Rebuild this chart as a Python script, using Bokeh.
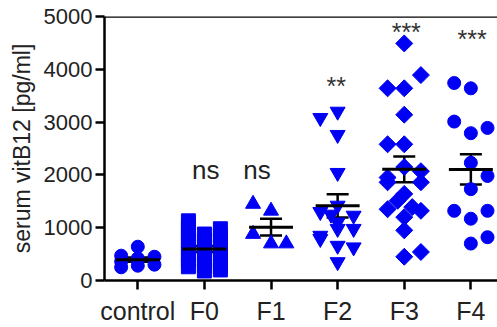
from bokeh.plotting import figure
from bokeh.models import Range1d, FixedTicker, Span, ColumnDataSource, Whisker
from bokeh.core.properties import value
from bokeh.embed import file_html
from bokeh.resources import INLINE
import numpy as np

categories = ["control", "F0", "F1", "F2", "F3", "F4"]

control_vals = [640, 470, 450, 420, 380, 360, 300, 280, 250]
control_off  = [0.0, -0.25, 0.25, 0.0, 0.0, -0.25, 0.25, 0.0, -0.25]

f0_vals = [1130, 1000, 880, 750, 620, 500, 380, 260,
           880, 760, 640, 520, 400, 280, 180,
           980, 860, 740, 620, 500, 380, 260, 200]
f0_off = [-0.24] * 8 + [0.0] * 7 + [0.24] * 8

f1_vals = [1450, 1320, 880, 700, 700]
f1_off  = [-0.27, 0.0, -0.27, 0.0, 0.23]

f2_vals = [3200, 3080, 2760, 2040, 1420, 1300, 1250, 1230, 1100, 980, 980, 850, 790, 660, 630, 350]
f2_off  = [0.0, -0.26, 0.0, 0.0, 0.0, -0.26, -0.1, 0.24, 0.0, 0.0, 0.24, -0.26, -0.26, 0.0, 0.24, 0.0]

f3_vals = [4490, 3890, 3640, 3640, 3140, 2580, 2580, 2150, 2070, 1950, 1860, 1860,
           1640, 1510, 1390, 1350, 1320, 1200, 950, 540, 450]
f3_off  = [0.0, 0.25, -0.25, 0.0, 0.0, -0.25, 0.0, 0.0, 0.25, -0.25, -0.25, 0.25,
           0.0, -0.1, 0.12, -0.25, 0.25, 0.0, 0.0, 0.25, 0.0]

f4_vals = [3740, 3640, 3010, 2890, 2790, 2230, 1980, 1730, 1320, 1320, 1170, 820, 700]
f4_off  = [-0.25, 0.0, -0.25, 0.25, 0.0, 0.0, 0.25, 0.0, -0.25, 0.25, 0.0, 0.25, 0.0]

sig_labels = ["", "ns", "ns", "**", "***", "***"]
sig_y      = [0, 2100, 2100, 3690, 4710, 4580]

groups = [control_vals, f0_vals, f1_vals, f2_vals, f3_vals, f4_vals]
offsets = [control_off, f0_off, f1_off, f2_off, f3_off, f4_off]

BLUE = "#0000F5"
FONT = "Liberation Sans"

p = figure(width=497, height=327, output_backend="svg", toolbar_location=None,
           x_range=Range1d(0, 5.9), y_range=Range1d(0, 5000),
           min_border_left=104, min_border_right=0, min_border_top=16, min_border_bottom=44)
p.outline_line_color = None
p.grid.visible = False
p.background_fill_color = "white"

markers = [("circle", 13, 0), ("square", 14, 0), ("triangle", 15, 0),
           ("inverted_triangle", 15, 0), ("square", 12, np.pi / 4), ("circle", 13, 0)]

for i, (vals, offs) in enumerate(zip(groups, offsets)):
    xs = [i + 0.5 + o for o in offs]
    m, s, a = markers[i]
    p.scatter(xs, vals, marker=m, size=s, angle=a, fill_color=BLUE, line_color=BLUE)

# mean and SEM
means = [float(np.mean(g)) for g in groups]
sems = [float(np.std(g, ddof=1) / np.sqrt(len(g))) for g in groups]
cx = [i + 0.5 for i in range(len(categories))]
src = ColumnDataSource(dict(x=cx, m=means, lo=[m - s for m, s in zip(means, sems)],
                            hi=[m + s for m, s in zip(means, sems)],
                            x0=[c - 0.33 for c in cx], x1=[c + 0.33 for c in cx]))
p.segment(x0="x0", x1="x1", y0="m", y1="m", source=src, line_color="black", line_width=3)
w = Whisker(base="x", lower="lo", upper="hi", source=src, dimension="height",
            line_color="black", line_width=2.5)
for h in (w.upper_head, w.lower_head):
    h.size = 22
    h.line_width = 2.5
    h.line_color = "black"
p.add_layout(w)

# significance labels
sig_x = [0.5, 1.52, 2.29, 3.48, 4.53, 5.52]
p.text(sig_x[1:3], sig_y[1:3], text=sig_labels[1:3], text_align="center", text_baseline="alphabetic",
       text_font=value(FONT), text_font_size="26px", text_color="#222222")
p.text(sig_x[3:], sig_y[3:], text=sig_labels[3:], text_align="center", text_baseline="alphabetic",
       text_font=value(FONT), text_font_size="25px", text_color="#333333")

# top line
p.add_layout(Span(location=5000, dimension="width", line_color="black", line_width=2.5))

# axes
p.yaxis.ticker = FixedTicker(ticks=[0, 1000, 2000, 3000, 4000, 5000])
p.xaxis.ticker = FixedTicker(ticks=cx)
p.xaxis.major_label_overrides = {c: lab for c, lab in zip(cx, categories)}
for ax in (p.xaxis, p.yaxis):
    ax.axis_line_width = 2.5
    ax.axis_line_color = "black"
    ax.major_tick_line_width = 2.5
    ax.major_tick_line_color = "black"
    ax.major_tick_out = 9
    ax.major_tick_in = 0
    ax.minor_tick_line_color = None
    ax.major_label_text_font = FONT
    ax.major_label_text_color = "#222222"
p.yaxis.major_label_text_font_size = "22px"
p.xaxis.major_label_text_font_size = "25px"
p.yaxis.major_label_standoff = 3
p.xaxis.major_label_standoff = 7
p.yaxis.axis_label = "serum vitB12 [pg/ml]"
p.yaxis.axis_label_text_font = FONT
p.yaxis.axis_label_text_font_size = "23px"
p.yaxis.axis_label_text_font_style = "normal"
p.yaxis.axis_label_text_color = "#222222"
p.yaxis.axis_label_standoff = 6

open("out.html", "w").write(file_html(p, INLINE))
